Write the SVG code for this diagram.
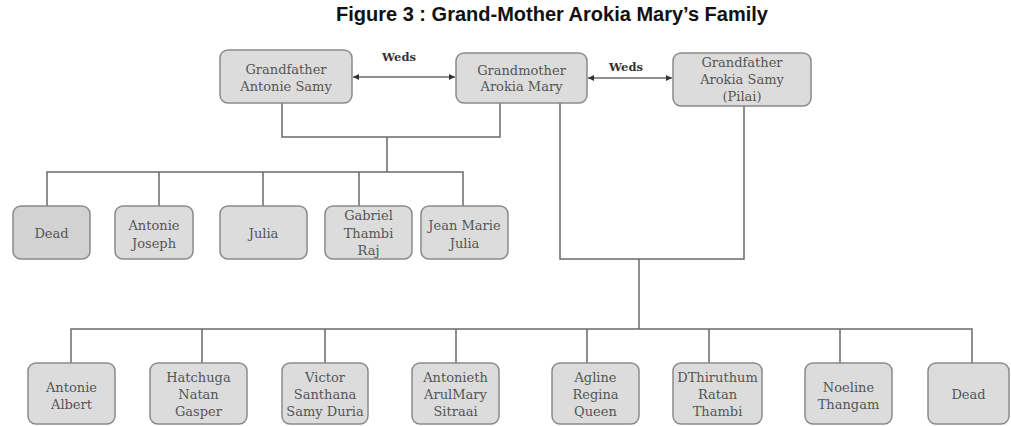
<svg xmlns="http://www.w3.org/2000/svg" width="1011" height="426" viewBox="0 0 1011 426">
<style>
.box{fill:#dcdcdc;stroke:#8a8a8a;stroke-width:1.5}
.t{font-family:"DejaVu Serif","Liberation Serif",serif;font-size:13px;fill:#555;text-anchor:middle}
.w{font-family:"DejaVu Serif","Liberation Serif",serif;font-size:11.5px;font-weight:bold;fill:#333;text-anchor:middle}
.ln{fill:none;stroke:#6a6a6a;stroke-width:1.5}
.ttl{font-family:"Liberation Sans",Arial,sans-serif;font-size:20px;font-weight:bold;fill:#111;text-anchor:middle}
</style>
<defs>
<marker id="ah" viewBox="0 0 10 10" refX="10" refY="5" markerWidth="7" markerHeight="6" markerUnits="userSpaceOnUse" orient="auto-start-reverse">
<path d="M0,0 L10,5 L0,10 Z" fill="#333"/>
</marker>
</defs>
<rect width="1011" height="426" fill="#fff"/>
<text class="ttl" x="552" y="21">Figure 3 : Grand-Mother Arokia Mary’s Family</text>

<g id="connectors">
<path class="ln" d="M282 103 V137 H500 V103"/>
<path class="ln" d="M387 137 V172"/>
<path class="ln" d="M47 206 V172 H463 V206 M159 172 V206 M263 172 V206 M359 172 V206"/>
<path class="ln" d="M560 103 V259 H744 V106"/>
<path class="ln" d="M639 259 V329"/>
<path class="ln" d="M71 363 V329 H972 V363 M202 329 V363 M325 329 V363 M456 329 V363 M587 329 V363 M709 329 V363 M840 329 V363"/>
<line class="ln" x1="353" y1="77" x2="455" y2="77" marker-start="url(#ah)" marker-end="url(#ah)"/>
<line class="ln" x1="588" y1="78" x2="672" y2="78" marker-start="url(#ah)" marker-end="url(#ah)"/>
<text class="w" x="399" y="61">Weds</text>
<text class="w" x="626" y="71">Weds</text>
</g>

<g id="gf-antonie"><rect class="box" x="220" y="50" width="132" height="53" rx="8"/>
<text class="t" x="286" y="74">Grandfather</text><text class="t" x="286" y="91">Antonie Samy</text></g>
<g id="gm-arokia"><rect class="box" x="456" y="53" width="131" height="50" rx="8"/>
<text class="t" x="521.5" y="75">Grandmother</text><text class="t" x="521.5" y="91">Arokia Mary</text></g>
<g id="gf-pilai"><rect class="box" x="673" y="53" width="138" height="53" rx="8"/>
<text class="t" x="742" y="67">Grandfather</text><text class="t" x="742" y="84">Arokia Samy</text><text class="t" x="742" y="101">(Pilai)</text></g>

<g id="c1-dead"><rect class="box" x="13" y="206" width="77" height="53" rx="8" style="fill:#d2d2d2"/>
<text class="t" x="51.5" y="237.5">Dead</text></g>
<g id="c1-antonie-joseph"><rect class="box" x="115" y="206" width="78" height="53" rx="8"/>
<text class="t" x="154" y="229.5">Antonie</text><text class="t" x="154" y="247.5">Joseph</text></g>
<g id="c1-julia"><rect class="box" x="220" y="206" width="87" height="53" rx="8"/>
<text class="t" x="263.5" y="237.5">Julia</text></g>
<g id="c1-gabriel"><rect class="box" x="325" y="206" width="87" height="53" rx="8"/>
<text class="t" x="368.5" y="219.5">Gabriel</text><text class="t" x="368.5" y="237.5">Thambi</text><text class="t" x="368.5" y="254.5">Raj</text></g>
<g id="c1-jean"><rect class="box" x="421" y="206" width="87" height="53" rx="8"/>
<text class="t" x="464.5" y="229.5">Jean Marie</text><text class="t" x="464.5" y="247.5">Julia</text></g>

<g id="c2-antonie-albert"><rect class="box" x="28" y="363" width="87" height="61" rx="8"/>
<text class="t" x="71.5" y="392">Antonie</text><text class="t" x="71.5" y="409">Albert</text></g>
<g id="c2-hatchuga"><rect class="box" x="150" y="363" width="97" height="61" rx="8"/>
<text class="t" x="198.5" y="382">Hatchuga</text><text class="t" x="198.5" y="399">Natan</text><text class="t" x="198.5" y="416">Gasper</text></g>
<g id="c2-victor"><rect class="box" x="282" y="363" width="86" height="61" rx="8"/>
<text class="t" x="325" y="382">Victor</text><text class="t" x="325" y="399">Santhana</text><text class="t" x="325" y="416">Samy Duria</text></g>
<g id="c2-antonieth"><rect class="box" x="412" y="363" width="87" height="61" rx="8"/>
<text class="t" x="455.5" y="382">Antonieth</text><text class="t" x="455.5" y="399">ArulMary</text><text class="t" x="455.5" y="416">Sitraai</text></g>
<g id="c2-agline"><rect class="box" x="552" y="363" width="87" height="61" rx="8"/>
<text class="t" x="595.5" y="382">Agline</text><text class="t" x="595.5" y="399">Regina</text><text class="t" x="595.5" y="416">Queen</text></g>
<g id="c2-dthiruthum"><rect class="box" x="673" y="363" width="89" height="61" rx="8"/>
<text class="t" x="717.5" y="382">DThiruthum</text><text class="t" x="717.5" y="399">Ratan</text><text class="t" x="717.5" y="416">Thambi</text></g>
<g id="c2-noeline"><rect class="box" x="805" y="363" width="87" height="61" rx="8"/>
<text class="t" x="848.5" y="392">Noeline</text><text class="t" x="848.5" y="409">Thangam</text></g>
<g id="c2-dead"><rect class="box" x="928" y="363" width="81" height="61" rx="8"/>
<text class="t" x="968.5" y="398.5">Dead</text></g>
</svg>
